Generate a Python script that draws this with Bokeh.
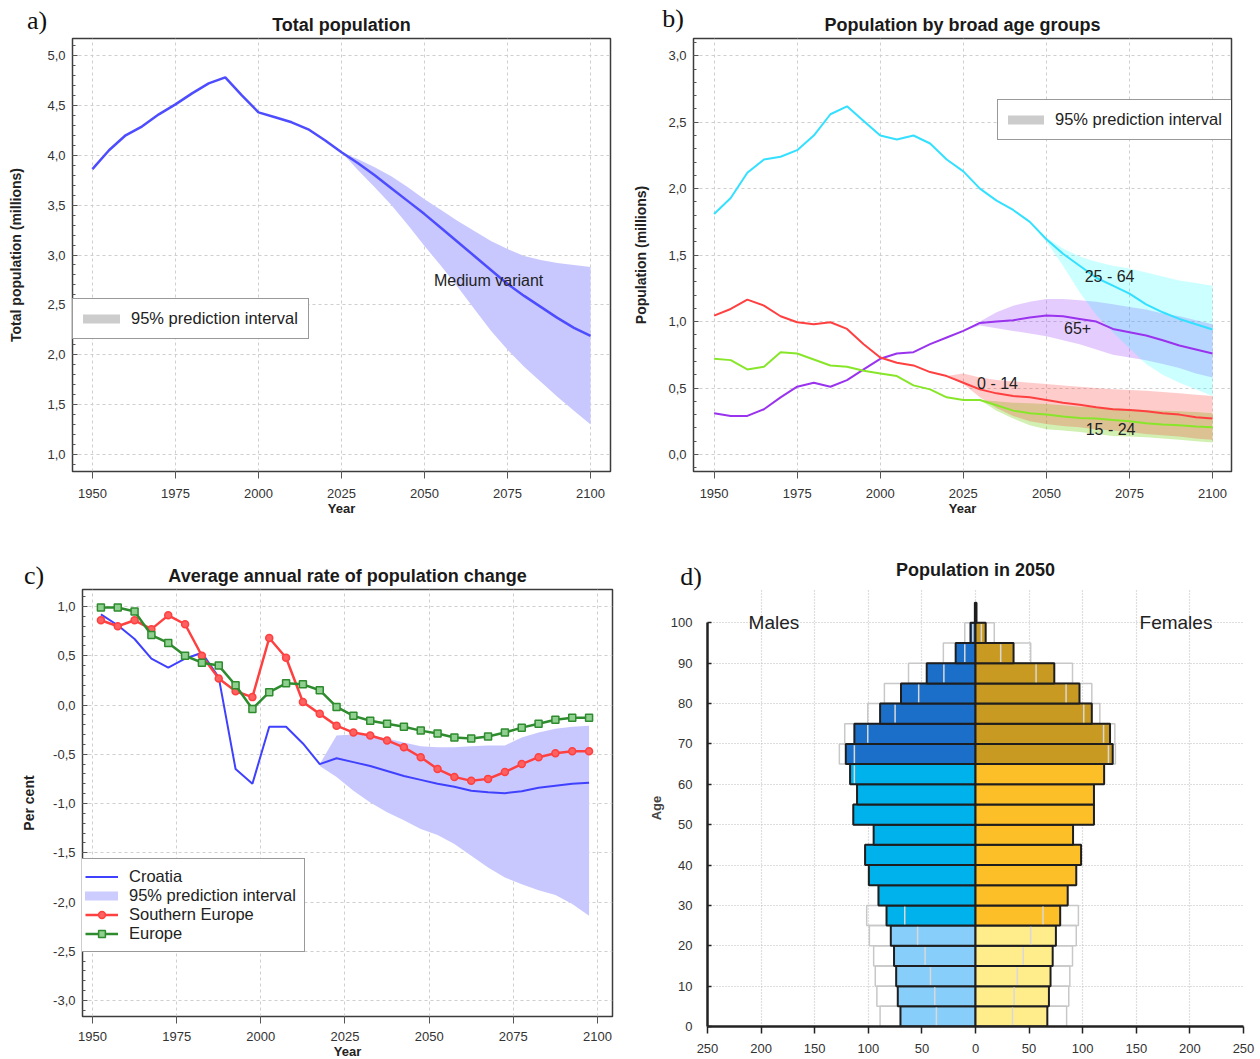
import numpy as np
from bokeh.plotting import figure
from bokeh.models import (Label, Legend, LegendItem, FixedTicker, SingleIntervalTicker,
                          CustomJSTickFormatter, Range1d, Div)
from bokeh.layouts import column, row
from bokeh.embed import file_html
from bokeh.resources import INLINE

FONT = "Liberation Sans"
SERIF = "Liberation Serif"

# ---------------- data: panel a (total population, millions) ----------------
years = list(range(1950, 2101, 5))
total_pop = [3.86, 4.05, 4.20, 4.29, 4.41, 4.51, 4.62, 4.72, 4.78, 4.60, 4.43, 4.38, 4.33, 4.26, 4.15,
             4.03, 3.92, 3.80, 3.67, 3.54, 3.41, 3.27, 3.13, 2.99, 2.85, 2.71, 2.59, 2.48, 2.37, 2.27, 2.19]
pi_years_a = list(range(2025, 2101, 5))
total_hi = [4.03, 3.96, 3.88, 3.79, 3.68, 3.56, 3.45, 3.34, 3.24, 3.14, 3.06, 2.99, 2.95, 2.92, 2.90, 2.88]
total_lo = [4.03, 3.85, 3.68, 3.50, 3.30, 3.09, 2.89, 2.68, 2.46, 2.24, 2.05, 1.88, 1.73, 1.58, 1.44, 1.30]

# ---------------- data: panel b (broad age groups, millions) ----------------
age_25_64 = [1.81, 1.93, 2.12, 2.22, 2.24, 2.29, 2.40, 2.56, 2.62, 2.51, 2.40, 2.37, 2.40, 2.34, 2.22,
             2.13, 2.00, 1.91, 1.84, 1.75, 1.62, 1.51, 1.42, 1.33, 1.27, 1.21, 1.13, 1.07, 1.02, 0.98, 0.94]
age_65p = [0.31, 0.29, 0.29, 0.34, 0.43, 0.51, 0.54, 0.51, 0.56, 0.64, 0.72, 0.76, 0.77, 0.83, 0.88,
           0.93, 0.99, 1.00, 1.01, 1.03, 1.045, 1.04, 1.02, 1.00, 0.945, 0.92, 0.895, 0.86, 0.82, 0.79, 0.76]
age_0_14 = [1.045, 1.095, 1.165, 1.12, 1.04, 0.995, 0.98, 0.995, 0.945, 0.83, 0.73, 0.69, 0.67, 0.62, 0.59,
            0.54, 0.49, 0.46, 0.44, 0.43, 0.41, 0.39, 0.375, 0.355, 0.34, 0.335, 0.325, 0.31, 0.30, 0.28, 0.27]
age_15_24 = [0.72, 0.71, 0.64, 0.66, 0.77, 0.76, 0.715, 0.67, 0.66, 0.63, 0.61, 0.59, 0.52, 0.49, 0.43,
             0.41, 0.41, 0.37, 0.33, 0.31, 0.30, 0.285, 0.275, 0.27, 0.26, 0.25, 0.235, 0.225, 0.22, 0.21, 0.205]

pi_years_25_64 = list(range(2045, 2101, 5))
pi_25_64_hi = [1.75, 1.63, 1.55, 1.49, 1.45, 1.42, 1.40, 1.37, 1.34, 1.31, 1.29, 1.27]
pi_25_64_lo = [1.75, 1.60, 1.42, 1.22, 1.05, 0.92, 0.80, 0.68, 0.60, 0.54, 0.49, 0.44]
pi_years_65p = list(range(2025, 2101, 5))
pi_65p_hi = [0.93, 1.00, 1.07, 1.12, 1.15, 1.17, 1.17, 1.16, 1.15, 1.13, 1.11, 1.09, 1.06, 1.04, 1.01, 0.98]
pi_65p_lo = [0.93, 0.97, 0.95, 0.93, 0.91, 0.89, 0.86, 0.83, 0.79, 0.75, 0.73, 0.71, 0.68, 0.65, 0.61, 0.58]
pi_years_0_14 = list(range(2020, 2101, 5))
pi_0_14_hi = [0.59, 0.61, 0.58, 0.56, 0.55, 0.54, 0.53, 0.52, 0.51, 0.50, 0.49, 0.485, 0.48, 0.47, 0.46, 0.45, 0.44]
pi_0_14_lo = [0.59, 0.53, 0.43, 0.35, 0.29, 0.25, 0.23, 0.215, 0.205, 0.19, 0.18, 0.17, 0.155, 0.145, 0.135, 0.12, 0.11]
pi_years_15_24 = list(range(2030, 2101, 5))
pi_15_24_hi = [0.41, 0.40, 0.39, 0.385, 0.38, 0.37, 0.36, 0.355, 0.35, 0.34, 0.335, 0.33, 0.325, 0.32, 0.31]
pi_15_24_lo = [0.41, 0.33, 0.27, 0.22, 0.19, 0.18, 0.17, 0.155, 0.14, 0.135, 0.13, 0.12, 0.11, 0.10, 0.09]

# ---------------- data: panel c (average annual rate of change, %) ----------------
periods = [1952.5 + 5 * i for i in range(30)]
rate_croatia = [0.92, 0.81, 0.67, 0.47, 0.38, 0.47, 0.53, 0.28, -0.65, -0.80, -0.22, -0.22, -0.39, -0.60, -0.54,
                -0.58, -0.62, -0.67, -0.72, -0.76, -0.80, -0.83, -0.87, -0.885, -0.895, -0.875, -0.84, -0.82, -0.80, -0.79]
rate_south_europe = [0.86, 0.80, 0.86, 0.77, 0.91, 0.82, 0.50, 0.27, 0.14, 0.08, 0.68, 0.48, 0.03, -0.09, -0.21,
                     -0.28, -0.31, -0.36, -0.43, -0.53, -0.65, -0.73, -0.77, -0.75, -0.68, -0.60, -0.53, -0.49, -0.47, -0.47]
rate_europe = [0.99, 0.99, 0.95, 0.71, 0.63, 0.50, 0.43, 0.40, 0.20, -0.04, 0.13, 0.22, 0.21, 0.15, -0.02,
               -0.11, -0.16, -0.19, -0.22, -0.26, -0.29, -0.33, -0.34, -0.32, -0.28, -0.23, -0.19, -0.15, -0.13, -0.13]
pi_periods = [2017.5 + 5 * i for i in range(17)]
rate_pi_hi = [-0.60, -0.31, -0.30, -0.31, -0.34, -0.38, -0.42, -0.43, -0.43, -0.42, -0.41, -0.41, -0.33, -0.28, -0.24, -0.22, -0.21]
rate_pi_lo = [-0.62, -0.73, -0.87, -0.99, -1.09, -1.17, -1.26, -1.32, -1.41, -1.53, -1.65, -1.75, -1.82, -1.88, -1.93, -2.02, -2.14]

# ---------------- data: panel d (population pyramid 2050, thousands) ----------------
age_groups = list(range(0, 101, 5))
male_med = [70, 72.5, 74, 76, 79, 83, 90.5, 99.5, 103, 95, 114, 110.5, 117, 121, 113, 89, 69.5, 45.5, 18.5, 4.7, 0.6]
male_hi = [89, 92, 93.5, 95, 99, 101.5, 90.5, 99.5, 103, 95, 114, 110.5, 117, 127, 122, 100.5, 85, 62.5, 30, 10, 0.6]
male_lo = [36.5, 38, 42, 47, 54, 66, 90.5, 99.5, 103, 95, 114, 110.5, 113, 113, 100.5, 75, 53, 29.5, 10, 2.5, 0.6]
female_med = [67, 68.5, 70, 72, 75, 79, 86, 94, 98.5, 91, 110.5, 110.5, 120, 128, 125.5, 108.5, 97, 73.5, 35.5, 9.5, 0.9]
female_hi = [85, 87, 88, 90.5, 94, 96, 86, 94, 98.5, 91, 110.5, 110.5, 120, 130.5, 130, 116, 108.5, 90.5, 51.5, 17.5, 0.9]
female_lo = [34.5, 36, 39, 44.5, 51.5, 63, 86, 94, 98.5, 91, 110.5, 110.5, 120, 124, 119.5, 101, 84.5, 56.5, 23.5, 5.5, 0.9]

year_ticks = [1950, 1975, 2000, 2025, 2050, 2075, 2100]
panel_letters = ["a)", "b)", "c)", "d)"]
panel_titles = ["Total population", "Population by broad age groups",
                "Average annual rate of population change", "Population in 2050"]

comma_fmt = CustomJSTickFormatter(code="return tick.toFixed(1).replace('.', ',');")


def set_title(p, text, standoff):
    p.title.text = text
    p.title.align = "center"
    p.title.text_font = FONT
    p.title.text_font_size = "18px"
    p.title.text_font_style = "bold"
    p.title.text_color = "#1a1a1a"
    p.title.standoff = standoff


def base_style(p, xlabel, ylabel, y_standoff, x_tick_out, x_label_standoff):
    p.outline_line_color = "#3c3c3c"
    p.outline_line_width = 1.5
    p.background_fill_color = "white"
    p.border_fill_alpha = 0
    xt = FixedTicker(ticks=year_ticks)
    yt = SingleIntervalTicker(interval=0.5, num_minor_ticks=5)
    p.xaxis.ticker = xt
    p.xgrid.ticker = xt
    p.yaxis.ticker = yt
    p.ygrid.ticker = yt
    p.yaxis.formatter = comma_fmt
    for g in (p.xgrid, p.ygrid):
        g.grid_line_color = "#cfcfcf"
        g.grid_line_dash = "3 3"
        g.grid_line_width = 1
    for ax in (p.xaxis, p.yaxis):
        ax.axis_line_color = None
        ax.major_label_text_font = FONT
        ax.major_label_text_font_size = "13px"
        ax.major_label_text_color = "#333333"
        ax.axis_label_text_font = FONT
        ax.axis_label_text_font_style = "bold"
        ax.axis_label_text_color = "#222222"
        ax.major_tick_line_color = "#555555"
        ax.minor_tick_line_color = "#555555"
    p.xaxis.axis_label = xlabel
    p.xaxis.axis_label_text_font_size = "13px"
    p.xaxis.major_tick_in = 0
    p.xaxis.major_tick_out = x_tick_out
    p.xaxis.minor_tick_line_color = None
    p.xaxis.major_label_standoff = x_label_standoff
    p.xaxis.axis_label_standoff = 0
    p.yaxis.axis_label = ylabel
    p.yaxis.axis_label_text_font_size = "14px"
    p.yaxis.major_tick_in = 5
    p.yaxis.major_tick_out = 0
    p.yaxis.minor_tick_in = 3
    p.yaxis.minor_tick_out = 0
    p.yaxis.major_label_standoff = 7
    p.yaxis.axis_label_standoff = y_standoff


def make_legend(p, items, loc, glyph_w, padding):
    lg = Legend(items=items, location=loc, margin=0, padding=padding, spacing=0,
                glyph_width=glyph_w, glyph_height=17, label_height=17, label_standoff=11,
                label_text_font=FONT, label_text_font_size="16.5px", label_text_color="#222222",
                border_line_color="#333333", border_line_width=1.5,
                background_fill_color="white", background_fill_alpha=1.0)
    p.add_layout(lg)


def swatch(p, color):
    return p.line(x=[np.nan, np.nan], y=[np.nan, np.nan], line_color=color, line_width=9, line_cap="round")


# ======================= panel a =======================
pa = figure(frame_width=538, frame_height=433, min_border_left=72, min_border_right=19,
            min_border_top=38, min_border_bottom=74,
            x_range=Range1d(1944, 2106), y_range=Range1d(0.83, 5.17),
            output_backend="svg", toolbar_location=None)
base_style(pa, "Year", "Total population (millions)", 20, 7, 10)
set_title(pa, panel_titles[0], 8)
pa.varea(x=pi_years_a, y1=total_lo, y2=total_hi, fill_color="#c8c8ff", fill_alpha=1.0)
pa.line(years, total_pop, line_color="#4d4dff", line_width=2.5)
ra = swatch(pa, "#cccccc")
make_legend(pa, [LegendItem(label="95% prediction interval", renderers=[ra])], (0, 132), 37, 10)
pa.add_layout(Label(x=2069.3, y=2.745, text="Medium variant", text_font=FONT, text_font_size="16px",
                    text_color="#222222", text_align="center", text_baseline="middle"))

# ======================= panel b =======================
pb = figure(frame_width=538, frame_height=433, min_border_left=64, min_border_right=27,
            min_border_top=38, min_border_bottom=74,
            x_range=Range1d(1943.8, 2105.7), y_range=Range1d(-0.128, 3.13),
            output_backend="svg", toolbar_location=None)
base_style(pb, "Year", "Population (millions)", 16, 7, 10)
set_title(pb, panel_titles[1], 7)
pb.varea(x=pi_years_15_24, y1=pi_15_24_lo, y2=pi_15_24_hi, fill_color="#66cc00", fill_alpha=0.3)
pb.varea(x=pi_years_0_14, y1=pi_0_14_lo, y2=pi_0_14_hi, fill_color="#ff3333", fill_alpha=0.25)
pb.varea(x=pi_years_65p, y1=pi_65p_lo, y2=pi_65p_hi, fill_color="#9933ff", fill_alpha=0.25)
pb.varea(x=pi_years_25_64, y1=pi_25_64_lo, y2=pi_25_64_hi, fill_color="#00ffff", fill_alpha=0.2)
pb.line(years, age_25_64, line_color="#33e0ff", line_width=2)
pb.line(years, age_65p, line_color="#9933ee", line_width=2)
pb.line(years, age_0_14, line_color="#ff4040", line_width=2)
pb.line(years, age_15_24, line_color="#88e62a", line_width=2)
rb = swatch(pb, "#cccccc")
make_legend(pb, [LegendItem(label="95% prediction interval", renderers=[rb])], (304, 331), 36, 10)
for tx, ty, tt in [(2069.0, 1.34, "25 - 64"), (2059.4, 0.955, "65+"),
                   (2035.3, 0.534, "0 - 14"), (2069.3, 0.188, "15 - 24")]:
    pb.add_layout(Label(x=tx, y=ty, text=tt, text_font=FONT, text_font_size="16px",
                        text_color="#222222", text_align="center", text_baseline="middle"))

# ======================= panel c =======================
pc = figure(frame_width=530, frame_height=427, min_border_left=82, min_border_right=18,
            min_border_top=44, min_border_bottom=42,
            x_range=Range1d(1947.03, 2104.46), y_range=Range1d(-3.1624, 1.1726),
            output_backend="svg", toolbar_location=None)
base_style(pc, "Year", "Per cent", 13, 7, 8)
set_title(pc, panel_titles[2], 7)
pc.varea(x=pi_periods, y1=rate_pi_lo, y2=rate_pi_hi, fill_color="#c8c8ff", fill_alpha=1.0)
rc_cro = pc.line(periods, rate_croatia, line_color="#4040ff", line_width=2)
rc_se_l = pc.line(periods, rate_south_europe, line_color="#ff4040", line_width=2.5)
rc_se_m = pc.scatter(periods, rate_south_europe, marker="circle", size=7, line_color="#ff4040",
                     fill_color="#ff6060", line_width=1.5)
rc_eu_l = pc.line(periods, rate_europe, line_color="#2e8b2e", line_width=2.5)
rc_eu_m = pc.scatter(periods, rate_europe, marker="square", size=7, line_color="#2e8b2e",
                     fill_color="#8fcf8f", line_width=1.5)
rc_pi_sw = swatch(pc, "#ccccff")
make_legend(pc, [LegendItem(label="Croatia", renderers=[rc_cro]),
                 LegendItem(label="95% prediction interval", renderers=[rc_pi_sw]),
                 LegendItem(label="Southern Europe", renderers=[rc_se_l, rc_se_m]),
                 LegendItem(label="Europe", renderers=[rc_eu_l, rc_eu_m])], (-6, 64), 33, 8)

# ======================= panel d =======================
# frame top is aligned with panel c by the row layout; y range extends to keep 4.03 px per year
pd_ = figure(frame_width=536, frame_height=437, min_border_left=77, min_border_right=15,
             min_border_top=44, min_border_bottom=32,
             x_range=Range1d(-250, 250), y_range=Range1d(0, 108.26),
             output_backend="svg", toolbar_location=None)
pd_.outline_line_color = None
pd_.border_fill_alpha = 0
set_title(pd_, panel_titles[3], 19)
pd_.xaxis.ticker = FixedTicker(ticks=list(range(-250, 251, 50)))
pd_.xgrid.ticker = FixedTicker(ticks=list(range(-250, 251, 50)))
pd_.yaxis.ticker = FixedTicker(ticks=list(range(0, 101, 10)))
pd_.ygrid.ticker = FixedTicker(ticks=list(range(0, 101, 10)))
pd_.xaxis.formatter = CustomJSTickFormatter(code="return Math.abs(tick).toString();")
pd_.yaxis.bounds = (0, 100)
for g in (pd_.xgrid, pd_.ygrid):
    g.grid_line_color = "#bdbdbd"
    g.grid_line_dash = "1 2"
    g.grid_line_width = 1.2
for ax in (pd_.xaxis, pd_.yaxis):
    ax.axis_line_color = "#222222"
    ax.axis_line_width = 2.5
    ax.major_label_text_font = FONT
    ax.major_label_text_font_size = "13px"
    ax.major_label_text_color = "#333333"
    ax.minor_tick_line_color = None
    ax.major_tick_line_color = "#222222"
    ax.major_tick_line_width = 1.5
pd_.xaxis.major_tick_in = 0
pd_.xaxis.major_tick_out = 7
pd_.xaxis.major_label_standoff = 10
pd_.yaxis.major_tick_in = 4
pd_.yaxis.major_tick_out = 0
pd_.yaxis.major_label_standoff = 15
pd_.yaxis.axis_label = "Age"
pd_.yaxis.axis_label_text_font = FONT
pd_.yaxis.axis_label_text_font_style = "bold"
pd_.yaxis.axis_label_text_font_size = "13px"
pd_.yaxis.axis_label_standoff = 4

ages = np.array(age_groups, dtype=float)
m_med = np.array(male_med); m_hi = np.array(male_hi); m_lo = np.array(male_lo)
f_med = np.array(female_med); f_hi = np.array(female_hi); f_lo = np.array(female_lo)
male_cols = ["#87cefa" if a < 25 else ("#00b2ec" if a < 65 else "#1c6fc8") for a in age_groups]
female_cols = ["#ffec8b" if a < 25 else ("#fcbf27" if a < 65 else "#c99a22") for a in age_groups]

pd_.quad(left=-m_hi, right=0, bottom=ages, top=ages + 5, fill_color=None, line_color="#c8c8c8", line_width=1.5)
pd_.quad(left=0, right=f_hi, bottom=ages, top=ages + 5, fill_color=None, line_color="#c8c8c8", line_width=1.5)
pd_.quad(left=-m_med, right=0, bottom=ages, top=ages + 5, fill_color=male_cols, line_color="#1e1e1e", line_width=2)
pd_.quad(left=0, right=f_med, bottom=ages, top=ages + 5, fill_color=female_cols, line_color="#1e1e1e", line_width=2)
mm = m_lo < m_med - 0.5
fm = f_lo < f_med - 0.5
pd_.segment(x0=-m_lo[mm], x1=-m_lo[mm], y0=ages[mm] + 0.3, y1=ages[mm] + 4.7, line_color="#d8d8d8", line_width=1.5)
pd_.segment(x0=f_lo[fm], x1=f_lo[fm], y0=ages[fm] + 0.3, y1=ages[fm] + 4.7, line_color="#d8d8d8", line_width=1.5)

pd_.add_layout(Label(x=-188, y=100.2, text="Males", text_font=FONT, text_font_size="19px",
                     text_color="#222222", text_align="center", text_baseline="middle"))
pd_.add_layout(Label(x=187, y=100.2, text="Females", text_font=FONT, text_font_size="19px",
                     text_color="#222222", text_align="center", text_baseline="middle"))

# ---------------- panel letters (HTML overlay, page pixel positions of box tops) ----------------
letter_pos = [(37, -4), (673, -6), (34, 551), (691, 552)]
spans = "".join(
    f'<div style="position:absolute;left:{x}px;top:{y}px;transform:translate(-50%,0);'
    f"font-family:'Liberation Serif',serif;font-size:26px;line-height:1;white-space:nowrap;"
    f'color:#111111;z-index:10;">{t}</div>'
    for t, (x, y) in zip(panel_letters, letter_pos))
letters = Div(text=f'<div style="position:relative;width:0;height:0;overflow:visible;">{spans}</div>',
              width=1, height=0, margin=0, styles={"overflow": "visible", "z-index": "10"})

layout = column(letters, row(pa, pb), row(pc, pd_))
open("out.html", "w").write(file_html(layout, INLINE))
